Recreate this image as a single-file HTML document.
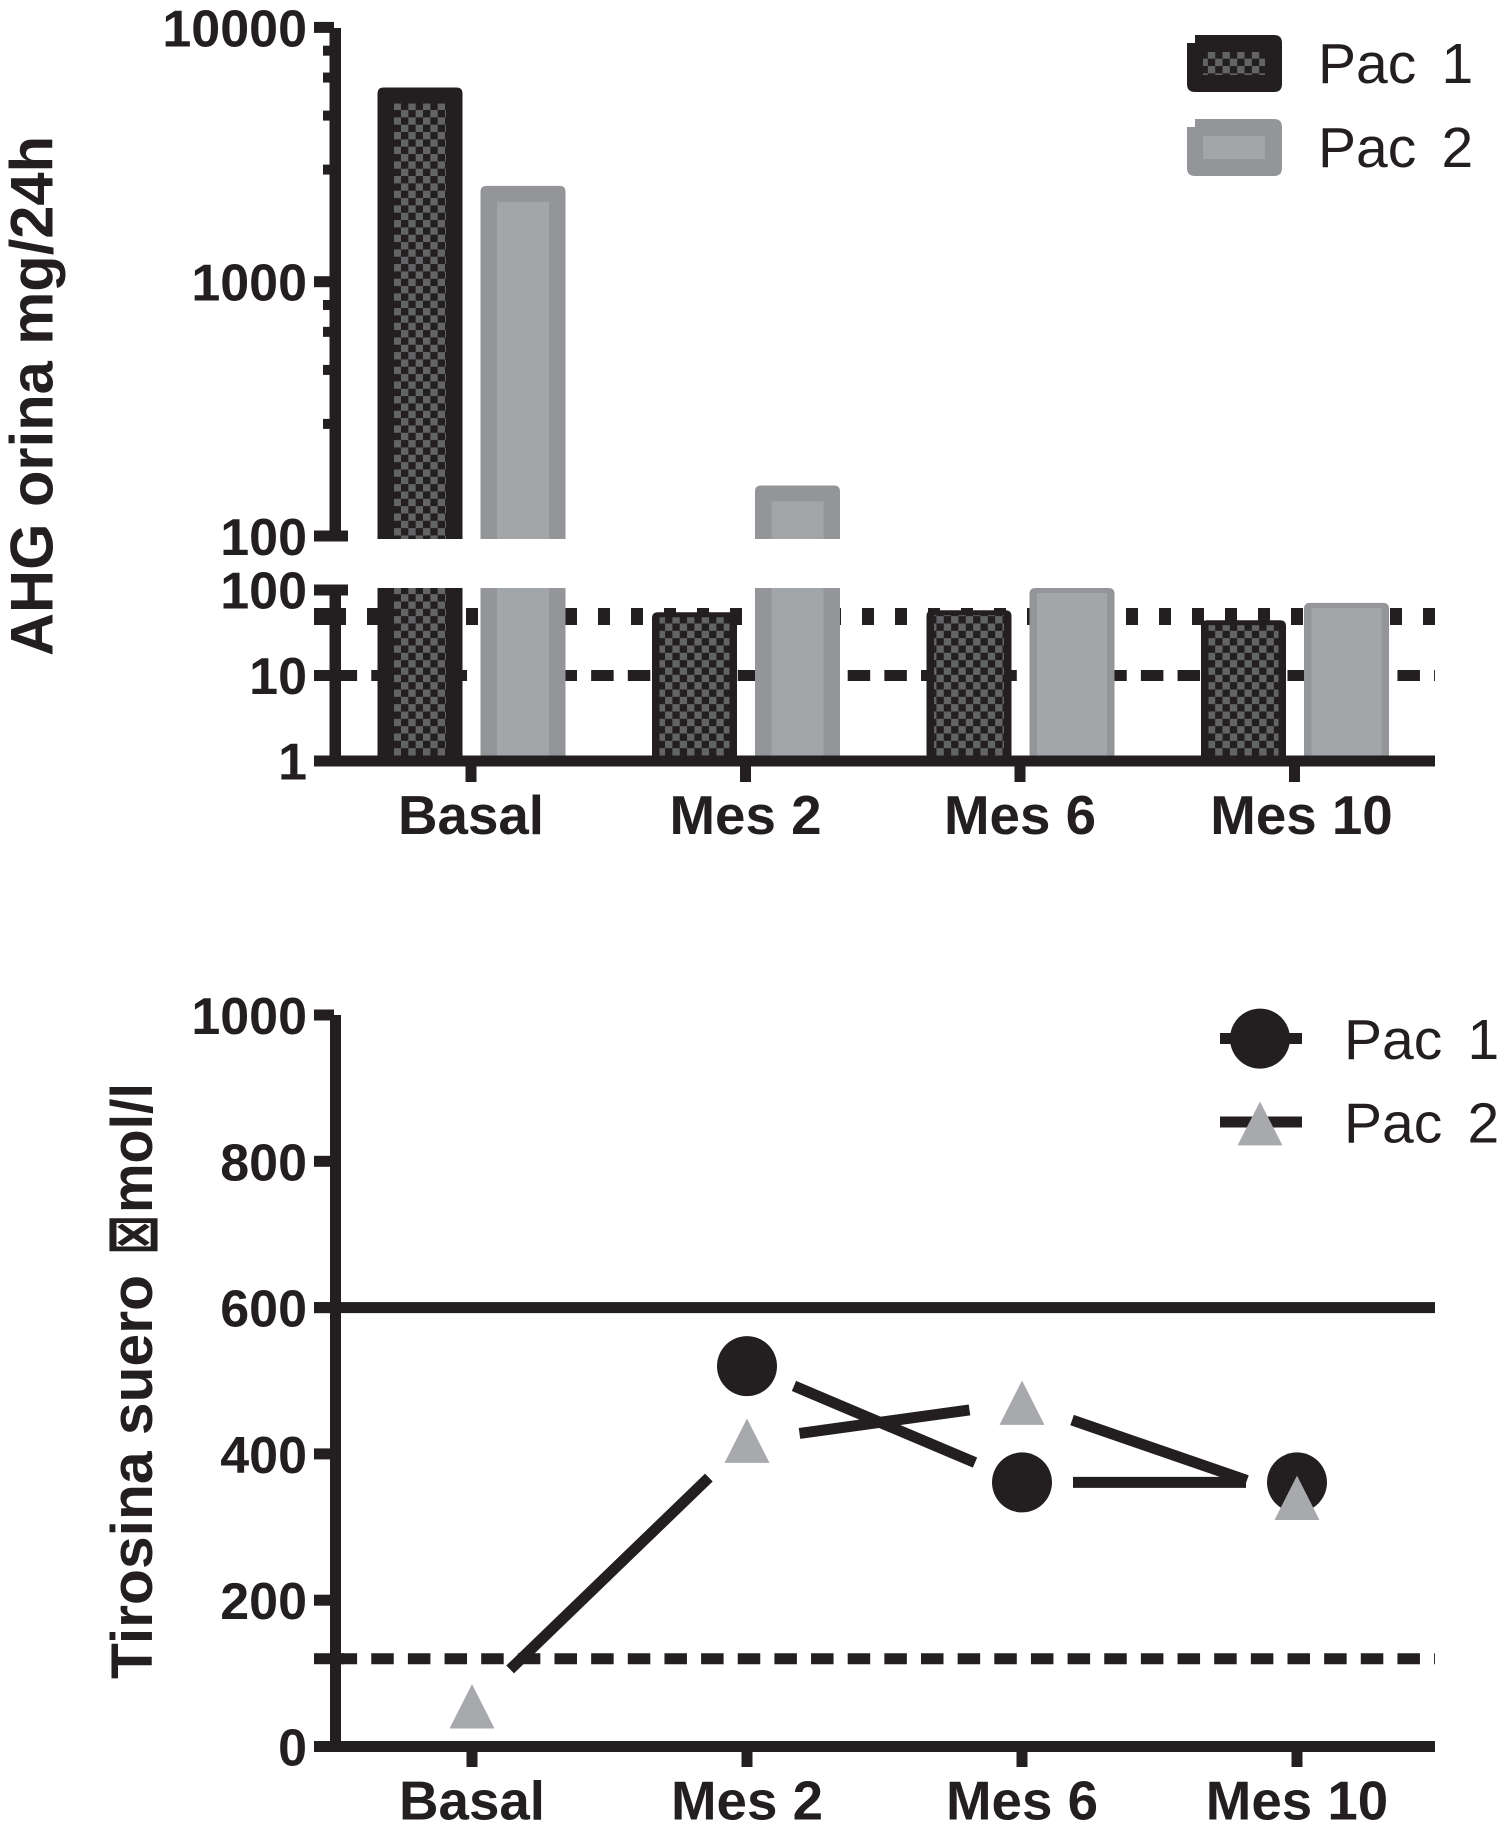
<!DOCTYPE html>
<html lang="es">
<head>
<meta charset="utf-8">
<title>AHG orina y Tirosina suero</title>
<style>
  html, body { margin: 0; padding: 0; background: #fff; }
  svg { display: block; }
  text { fill: #231f20; font-family: "Liberation Sans", "DejaVu Sans", sans-serif; }
  .bold { font-weight: 700; }
  .tick { font-size: 52px; font-weight: 700; text-anchor: end; }
  .cat { font-size: 54.7px; font-weight: 700; text-anchor: middle; }
  .leg { font-size: 57px; word-spacing: 9.5px; }
</style>
</head>
<body>
<svg id="fig" xmlns="http://www.w3.org/2000/svg" width="1500" height="1841" viewBox="0 0 1500 1841">
  <defs>
    <pattern id="checker" patternUnits="userSpaceOnUse" x="401" y="0" width="14.67" height="14.67">
      <rect width="14.67" height="14.67" fill="#636466"/>
      <rect width="7.335" height="7.335" fill="#231f20"/>
      <rect x="7.335" y="7.335" width="7.335" height="7.335" fill="#231f20"/>
    </pattern>
  </defs>

  <g id="urine-chart">
    <g id="urine-refs"></g>
    <g id="urine-bars"></g>
    <g id="urine-axes"></g>
    <text class="bold" transform="translate(52.5 656) rotate(-90)" font-size="60" textLength="520" lengthAdjust="spacingAndGlyphs">AHG orina mg/24h</text>
    <g>
      <g>
        <path d="M1195 35H1274Q1282 35 1282 43V84Q1282 92 1274 92H1195Q1187 92 1187 84V43H1195Z" fill="#231f20"/>
        <rect x="1203" y="52" width="62" height="23" fill="url(#checker)"/>
        <text class="leg" x="1318" y="83">Pac 1</text>
      </g>
      <g>
        <path d="M1195 119H1274Q1282 119 1282 127V168Q1282 176 1274 176H1195Q1187 176 1187 168V127H1195Z" fill="#939598"/>
        <rect x="1203" y="136" width="62" height="23" fill="#a3a6a9"/>
        <text class="leg" x="1318" y="167">Pac 2</text>
      </g>
    </g>
  </g>

  <g id="serum-chart">
    <g id="serum-refs"></g>
    <g id="serum-series"></g>
    <g id="serum-axes"></g>
    <g>
      <text class="bold" transform="translate(152 1679) rotate(-90)" font-size="58" textLength="404" lengthAdjust="spacingAndGlyphs">Tirosina suero</text>
      <text class="bold" transform="translate(155.5 1255) rotate(-90) scale(0.83 1.21)" font-size="58">⊠</text>
      <text class="bold" transform="translate(152 1213) rotate(-90)" font-size="58" textLength="130" lengthAdjust="spacingAndGlyphs">mol/l</text>
    </g>
    <g>
      <g>
        <rect x="1220" y="1033" width="82" height="11" fill="#231f20"/>
        <circle cx="1260" cy="1038.6" r="30" fill="#231f20"/>
        <text class="leg" x="1344" y="1059">Pac 1</text>
      </g>
      <g>
        <rect x="1220" y="1116.5" width="82" height="11" fill="#231f20"/>
        <polygon points="1260,1101.6 1282.5,1145.4 1237.5,1145.4" fill="#a7a9ac"/>
        <text class="leg" x="1344" y="1142.6">Pac 2</text>
      </g>
    </g>
  </g>
</svg>

<script>
const categories = ['Basal', 'Mes 2', 'Mes 6', 'Mes 10'];

// Upper chart: AHG in urine (broken log axis)
const urinePac1 = [5800, 52, 55, 42];
const urinePac2 = [2380, 158, 100, 67];
const urineUpperTicks = [100, 1000, 10000];
const urineUpperTickLabels = ['100', '1000', '10000'];
const urineLowerTicks = [1, 10, 100];
const urineLowerTickLabels = ['1', '10', '100'];
const urineMinorTicks = [276, 450, 635, 810, 2760, 4500, 6350, 8100];
const urineRefDotted = 49;
const urineRefDashed = 10;

// Lower chart: serum tyrosine
const serumPac1 = [null, 520, 361, 361];
const serumPac2 = [55, 418, 470, 340];
const serumTicks = [0, 200, 400, 600, 800, 1000];
const serumTickLabels = ['0', '200', '400', '600', '800', '1000'];
const serumRefSolid = 600;
const serumRefDashed = 120;

const SVG_NS = 'http://www.w3.org/2000/svg';
const INK = '#231f20';
const GREY = '#a7a9ac';
const AXIS_RIGHT = 1435;
const TICK_LEFT = 314;

function mk(parent, tag, attrs, txt) {
  const el = document.createElementNS(SVG_NS, tag);
  for (const k in attrs) el.setAttribute(k, attrs[k]);
  if (txt !== undefined) el.textContent = txt;
  parent.appendChild(el);
  return el;
}

/* Axis functions */
function urineUpperY(v) { return 536 - 254.3 * Math.log10(v / 100); }
function urineLowerY(v) { return 761 - 85.5 * Math.log10(v); }
function urineCatX(i) { return 471 + 274.5 * i; }
function serumY(v) { return 1746.5 - 0.7315 * v; }
function serumCatX(i) { return 472 + 275 * i; }

const urineRefs = document.getElementById('urine-refs');
const urineBars = document.getElementById('urine-bars');
const urineAxes = document.getElementById('urine-axes');
const serumRefs = document.getElementById('serum-refs');
const serumSeries = document.getElementById('serum-series');
const serumAxes = document.getElementById('serum-axes');

/* Urine reference lines */
const dotted = mk(urineRefs, 'line', { x1: 334, x2: AXIS_RIGHT, y1: urineLowerY(urineRefDotted), y2: urineLowerY(urineRefDotted), stroke: INK, 'stroke-width': 17, 'stroke-dasharray': '12 21' });


const dottedTick = mk(urineRefs, 'rect', { x: TICK_LEFT, y: urineLowerY(urineRefDotted) - 8.5, width: 32, height: 17, fill: INK });


const dashed = mk(urineRefs, 'line', { x1: 334.6, x2: AXIS_RIGHT, y1: urineLowerY(urineRefDashed), y2: urineLowerY(urineRefDashed), stroke: INK, 'stroke-width': 11, 'stroke-dasharray': '22.5 14.15' });



/* Bars */
const BAR_W = 85;
const BREAK_UPPER = 539;
const BREAK_LOWER = 588;
const BAR_BOTTOM = 756;

function roundTop(x, y, w, bottom) {
  const r = 6;
  return 'M' + x + ' ' + bottom + 'V' + (y + r) + 'Q' + x + ' ' + y + ' ' + (x + r) + ' ' + y +
    'H' + (x + w - r) + 'Q' + (x + w) + ' ' + y + ' ' + (x + w) + ' ' + (y + r) + 'V' + bottom + 'Z';
}

function drawBar(value, cx, outer, inner, label) {
  const g = mk(urineBars, 'g', {});
  
  
  const x = cx - BAR_W / 2;
  const broken = value > 100;
  const side = broken ? 16.5 : 7.5;
  const topEdge = broken ? 16 : 5;
  if (broken) {
    const top = urineUpperY(value);
    mk(g, 'path', { d: roundTop(x, top, BAR_W, BREAK_UPPER), fill: outer });
    mk(g, 'rect', { x: x + side, y: top + topEdge, width: BAR_W - 2 * side, height: Math.max(0, BREAK_UPPER - top - topEdge), fill: inner });
    mk(g, 'rect', { x: x, y: BREAK_LOWER, width: BAR_W, height: BAR_BOTTOM - BREAK_LOWER, fill: outer });
    mk(g, 'rect', { x: x + side, y: BREAK_LOWER, width: BAR_W - 2 * side, height: BAR_BOTTOM - BREAK_LOWER, fill: inner });
  } else {
    const top = urineLowerY(value) - 2;
    mk(g, 'path', { d: roundTop(x, top, BAR_W, BAR_BOTTOM), fill: outer });
    mk(g, 'rect', { x: x + side, y: top + topEdge, width: BAR_W - 2 * side, height: BAR_BOTTOM - top - topEdge, fill: inner });
  }
}

categories.forEach(function (c, i) {
  const slug = c.toLowerCase().replace(' ', '-');
  drawBar(urinePac1[i], urineCatX(i) - 51, INK, 'url(#checker)', 'pac-1-' + slug);
  drawBar(urinePac2[i], urineCatX(i) + 52, '#939598', '#a3a6a9', 'pac-2-' + slug);
});

/* Urine axes */
const upperAxis = mk(urineAxes, 'rect', { x: 329.5, y: 28, width: 11.5, height: 513, fill: INK });


const lowerAxis = mk(urineAxes, 'rect', { x: 329.5, y: 585, width: 11.5, height: 181, fill: INK });


const urineXAxis = mk(urineAxes, 'rect', { x: TICK_LEFT, y: 755.5, width: AXIS_RIGHT - TICK_LEFT, height: 11, fill: INK });



urineMinorTicks.forEach(function (v) {
  const t = mk(urineAxes, 'rect', { x: 323, y: urineUpperY(v) - 5, width: 10, height: 10, fill: INK });
  
  
});

urineUpperTicks.forEach(function (v, i) {
  const y = urineUpperY(v);
  const t = mk(urineAxes, 'rect', { x: TICK_LEFT, y: y - 5.5, width: v === 100 ? 34 : 20, height: 11, fill: INK });
  
  
  const l = mk(urineAxes, 'text', { class: 'tick', x: 307, y: y + 19 }, urineUpperTickLabels[i]);
  
  
});

urineLowerTicks.forEach(function (v, i) {
  const y = urineLowerY(v);
  const t = mk(urineAxes, 'rect', { x: TICK_LEFT, y: y - 5.5, width: v === 100 ? 34 : 20, height: 11, fill: INK });
  
  
  const l = mk(urineAxes, 'text', { class: 'tick', x: 307, y: y + 18.5 }, urineLowerTickLabels[i]);
  
  
});

categories.forEach(function (c, i) {
  const x = urineCatX(i);
  const t = mk(urineAxes, 'rect', { x: x - 5.5, y: 766, width: 11, height: 16, fill: INK });
  
  
  const l = mk(urineAxes, 'text', { class: 'cat', x: x + (i === 3 ? 7 : 0), y: 834 }, c);
  
  
});

/* Serum reference lines */
const solidRef = mk(serumRefs, 'rect', { x: TICK_LEFT, y: serumY(serumRefSolid) - 5.5, width: AXIS_RIGHT - TICK_LEFT, height: 11, fill: INK });


const dashedRef = mk(serumRefs, 'line', { x1: 334.6, x2: AXIS_RIGHT, y1: serumY(serumRefDashed), y2: serumY(serumRefDashed), stroke: INK, 'stroke-width': 11, 'stroke-dasharray': '22.5 14.15' });


const dashedRefTick = mk(serumRefs, 'rect', { x: TICK_LEFT, y: serumY(serumRefDashed) - 5.5, width: 30, height: 11, fill: INK });



/* Serum series */
function drawGappedLine(values, gap, label) {
  for (let i = 0; i < values.length - 1; i++) {
    if (values[i] === null || values[i + 1] === null) continue;
    const x1 = serumCatX(i), y1 = serumY(values[i]);
    const x2 = serumCatX(i + 1), y2 = serumY(values[i + 1]);
    const len = Math.hypot(x2 - x1, y2 - y1);
    const ux = (x2 - x1) / len, uy = (y2 - y1) / len;
    const seg = mk(serumSeries, 'line', { x1: x1 + ux * gap, y1: y1 + uy * gap, x2: x2 - ux * gap, y2: y2 - uy * gap, stroke: INK, 'stroke-width': 11 });
    
    
  }
}
drawGappedLine(serumPac1, 51, 'pac-1');
drawGappedLine(serumPac2, 53, 'pac-2');

serumPac1.forEach(function (v, i) {
  if (v === null) return;
  const p = mk(serumSeries, 'circle', { cx: serumCatX(i), cy: serumY(v), r: 30, fill: INK });
  
  
});
serumPac2.forEach(function (v, i) {
  if (v === null) return;
  const x = serumCatX(i), y = serumY(v);
  const pts = x + ',' + (y - 22.2) + ' ' + (x + 22.5) + ',' + (y + 22.2) + ' ' + (x - 22.5) + ',' + (y + 22.2);
  const p = mk(serumSeries, 'polygon', { points: pts, fill: GREY });
  
  
});

/* Serum axes */
const serumYAxis = mk(serumAxes, 'rect', { x: 330, y: 1015, width: 11, height: 737, fill: INK });


const serumXAxis = mk(serumAxes, 'rect', { x: TICK_LEFT, y: 1741, width: AXIS_RIGHT - TICK_LEFT, height: 11, fill: INK });



serumTicks.forEach(function (v, i) {
  const y = serumY(v);
  const t = mk(serumAxes, 'rect', { x: TICK_LEFT, y: y - 5.5, width: 20, height: 11, fill: INK });
  
  
  const l = mk(serumAxes, 'text', { class: 'tick', x: 307, y: y + 19 }, serumTickLabels[i]);
  
  
});

categories.forEach(function (c, i) {
  const x = serumCatX(i);
  const t = mk(serumAxes, 'rect', { x: x - 5.5, y: 1752, width: 11, height: 15, fill: INK });
  
  
  const l = mk(serumAxes, 'text', { class: 'cat', x: x, y: 1819.5 }, c);
  
  
});
</script>
</body>
</html>
